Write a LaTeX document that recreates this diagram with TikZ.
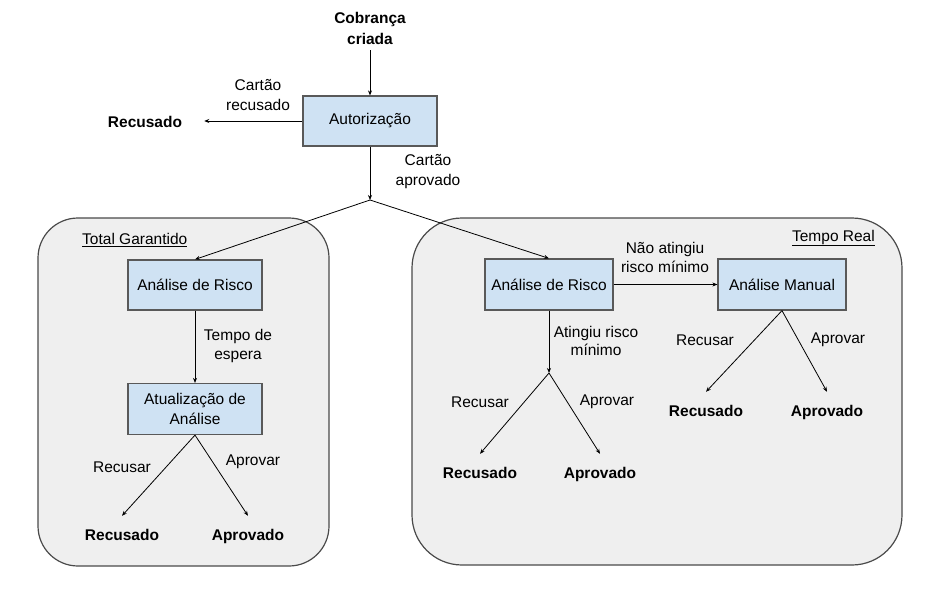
\documentclass[tikz,border=0pt]{standalone}
\usepackage{fontspec}
\setmainfont{Liberation Sans}
\usetikzlibrary{arrows.meta}
\definecolor{boxfill}{HTML}{CFE2F3}
\definecolor{boxline}{HTML}{595959}
\definecolor{contfill}{HTML}{EFEFEF}
\definecolor{contline}{HTML}{4A4A4A}
\begin{document}
\begin{tikzpicture}[x=1pt,y=-1pt,
  every node/.style={font=\fontsize{15.5}{20}\selectfont},
  proc/.style={draw=boxline, line width=1.2pt, fill=boxfill, minimum width=134pt, minimum height=50pt, align=center, inner sep=2pt},
  outcome/.style={font=\fontsize{15.5}{20}\selectfont\bfseries, inner xsep=0pt, inner ysep=13.5pt, text height=11pt, text depth=0pt},
  lbl/.style={align=center, inner sep=0pt},
  cont/.style={draw=contline, line width=1.2pt, fill=contfill},
  arr/.style={draw=black, line width=0.8pt, -{Stealth[length=5pt,width=4pt]}},
  ln/.style={draw=black, line width=0.8pt}]
\useasboundingbox (0,0) rectangle (948,591);
\fill[white] (0,0) rectangle (948,591);

% containers
\draw[cont, rounded corners=40pt] (38,218) rectangle (329,566);
\draw[cont, rounded corners=50pt] (412,218) rectangle (902,565);
\node[lbl, anchor=west] (tg) at (82,240) {\underline{Total Garantido}};
\node[lbl, anchor=east] (tr) at (875,238) {\underline{Tempo Real}};

% top
\node[align=center, font=\fontsize{15.5}{21}\selectfont\bfseries, inner sep=6pt] (start) at (370,28) {Cobrança\\criada};
\node[proc] (auth) at (370,121) {Autorização};
\node[outcome, inner xsep=22pt] (rec0) at (145,122) {Recusado};
\node[lbl] (lcr) at (258,95) {Cartão\\recusado};
\node[lbl] (lca) at (428,172) {Cartão\\aprovado};
\coordinate (b0) at (370,200);

\draw[arr] (start.south) -- (auth.north);
\draw[arr] (auth.west) -- (auth.west -| rec0.east);
\draw[arr] (auth.south) -- (b0);

% left container
\node[proc] (arL) at (195,285) {Análise de Risco};
\node[proc, minimum height=51pt] (atu) at (195,409) {Atualização de\\Análise};
\node[lbl, font=\fontsize{15.5}{19.5}\selectfont] (tde) at (238,346) {Tempo de\\espera};
\node[outcome] (r3) at (122,535) {Recusado};
\node[outcome] (a3) at (248,535) {Aprovado};
\node[lbl] (lr3) at (122,467) {Recusar};
\node[lbl] (la3) at (253,462) {Aprovar};

\draw[arr] (b0) -- (arL.north);
\draw[arr] (arL.south) -- (atu.north);
\draw[arr] (atu.south) -- (r3.north);
\draw[arr] (atu.south) -- (a3.north);

% right container
\node[proc, minimum width=128pt, minimum height=51pt] (arR) at (549,284.5) {Análise de Risco};
\node[proc, minimum width=128pt, minimum height=51pt] (man) at (782,284.5) {Análise Manual};
\node[lbl, font=\fontsize{15.5}{19}\selectfont] (lna) at (665,257) {Não atingiu\\risco mínimo};
\node[lbl, font=\fontsize{15.5}{18.5}\selectfont] (lat) at (596,341) {Atingiu risco\\mínimo};
\coordinate (b1) at (549,373);
\node[outcome] (r1) at (480,473) {Recusado};
\node[outcome] (a1) at (600,473) {Aprovado};
\node[lbl] (lr1) at (480,402) {Recusar};
\node[lbl] (la1) at (607,402) {Aprovar};
\node[outcome] (r2) at (706,411) {Recusado};
\node[outcome] (a2) at (827,411) {Aprovado};
\node[lbl] (lr2) at (705,340) {Recusar};
\node[lbl] (la2) at (838,340) {Aprovar};

\draw[arr] (b0) -- (arR.north);
\draw[arr] (arR.east) -- (man.west);
\draw[arr] (arR.south) -- (b1);
\draw[arr] (b1) -- (r1.north);
\draw[arr] (b1) -- (a1.north);
\draw[arr] (man.south) -- (r2.north);
\draw[arr] (man.south) -- (a2.north);
\end{tikzpicture}
\end{document}
